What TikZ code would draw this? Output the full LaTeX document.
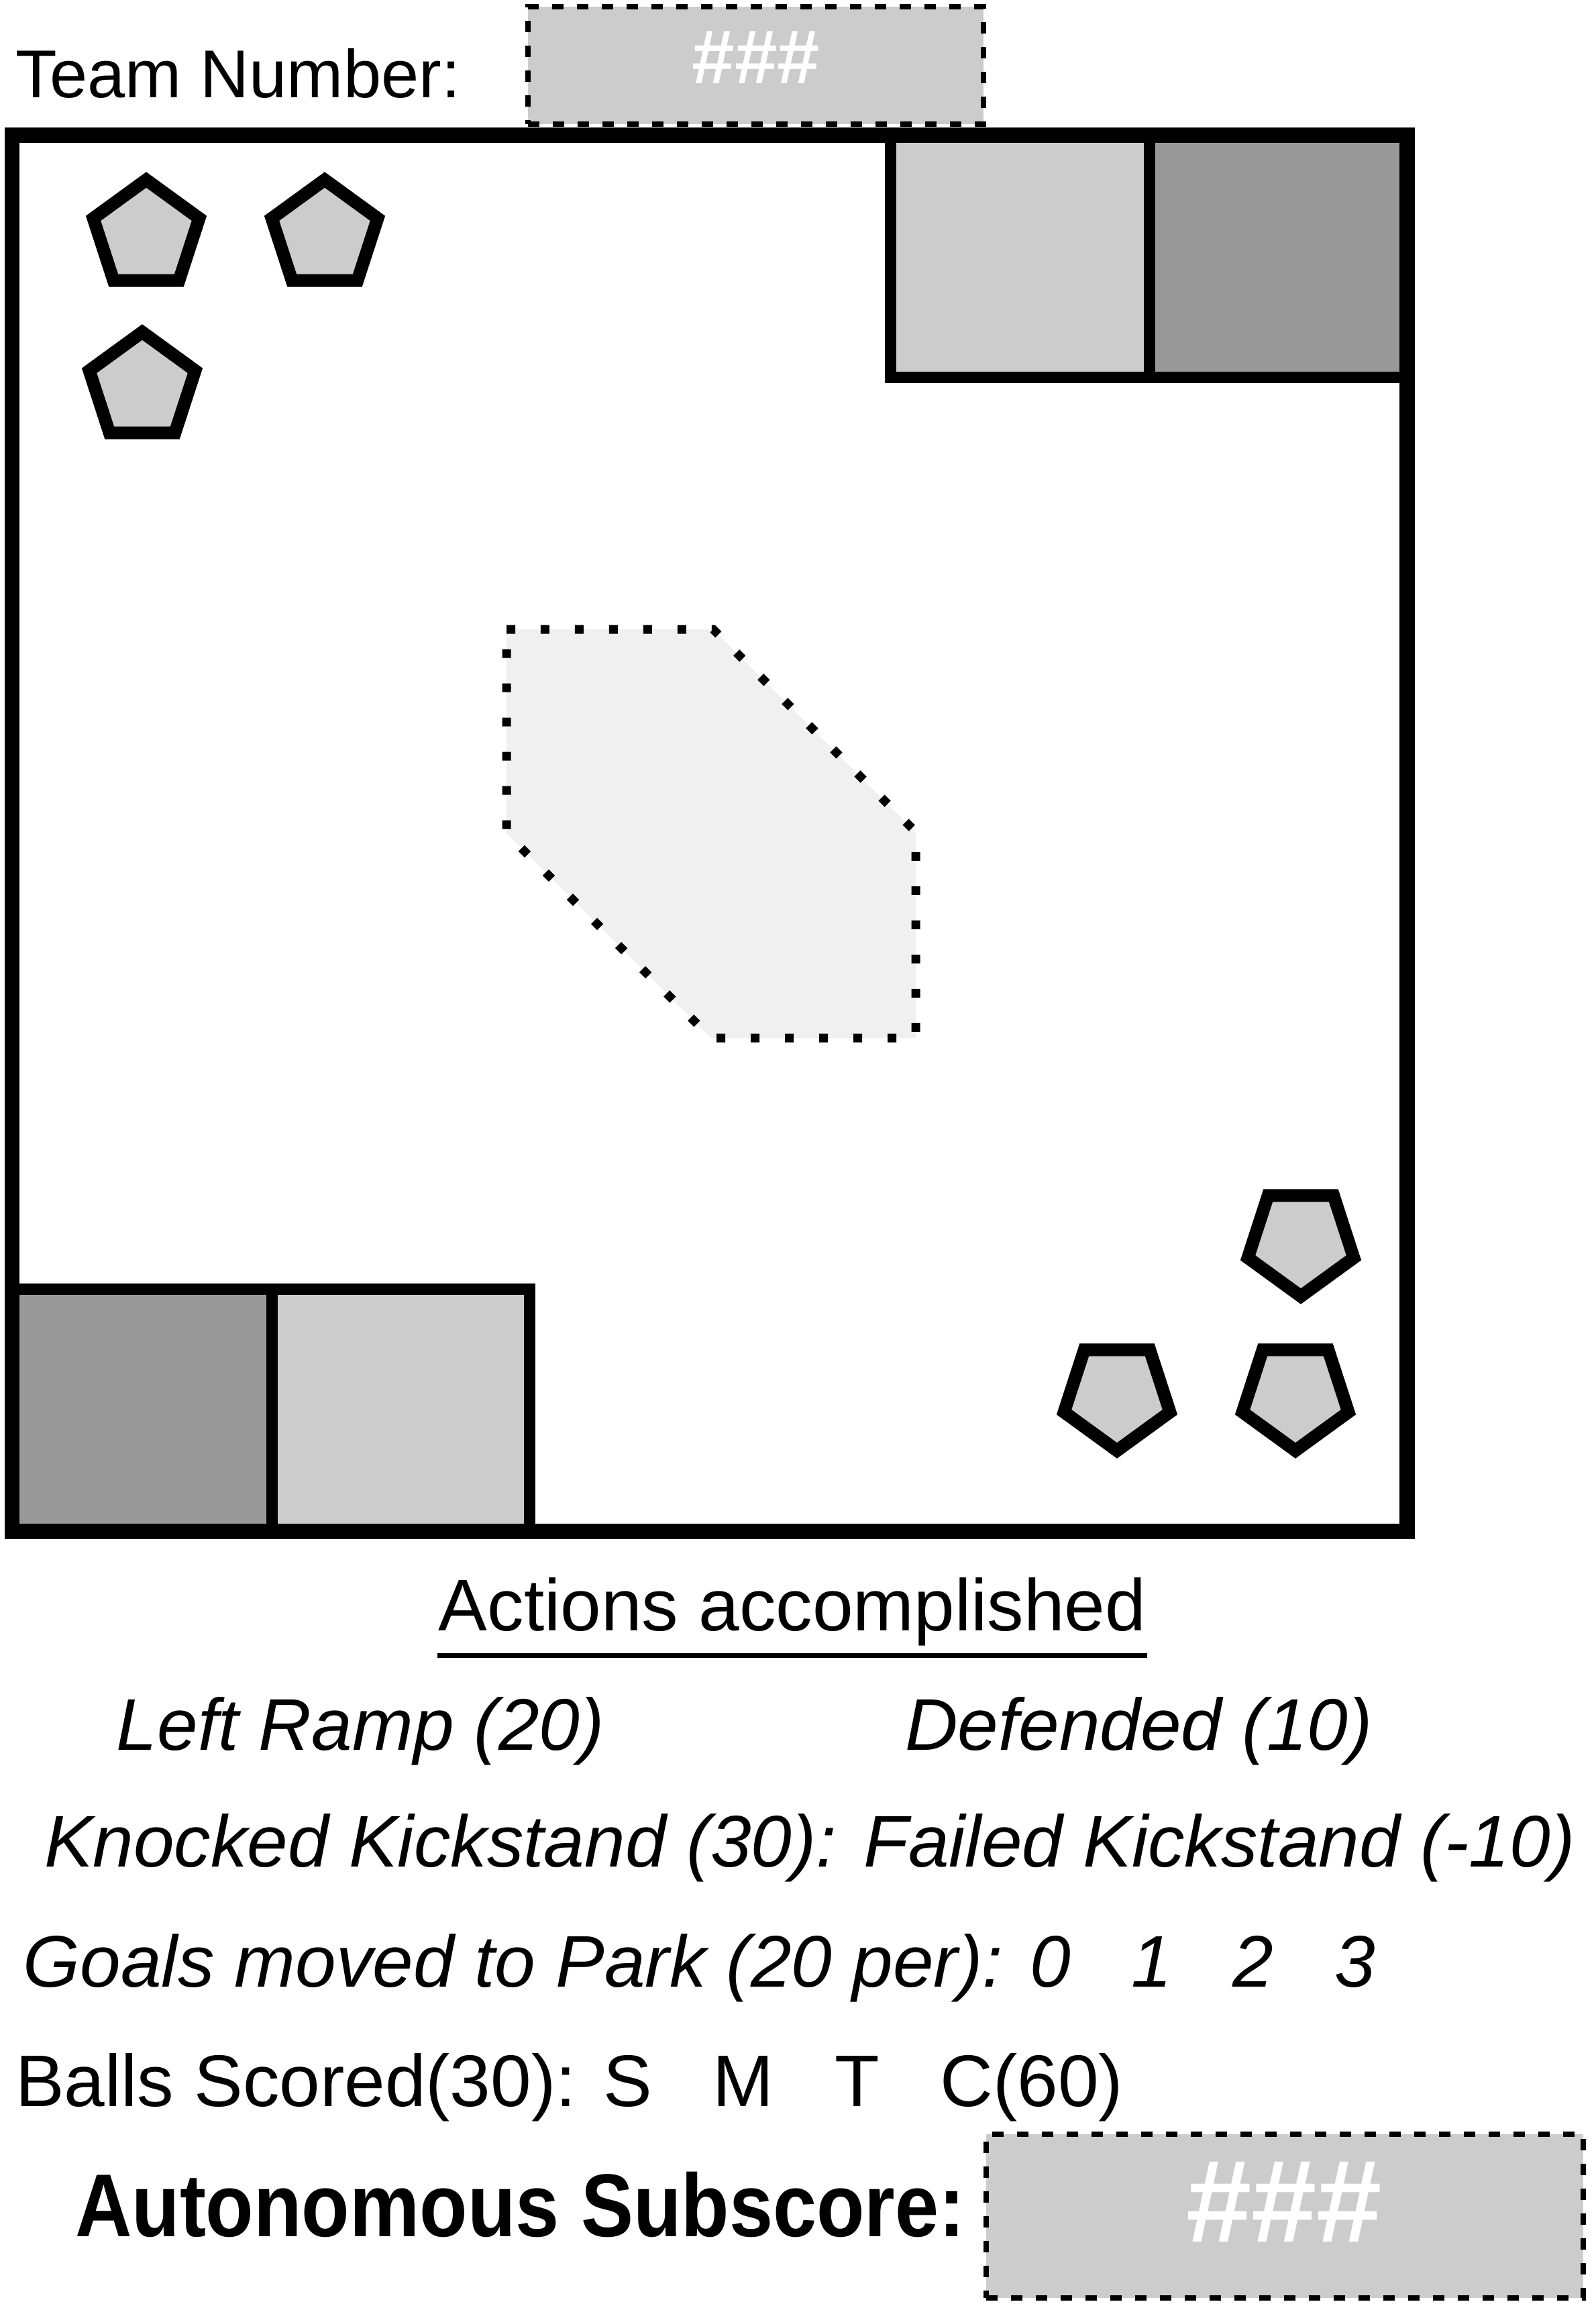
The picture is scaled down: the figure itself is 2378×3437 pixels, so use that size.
\documentclass[tikz,border=0pt]{standalone}
\usepackage{fontspec}
\usepackage{graphicx}
\setmainfont{Liberation Sans}
\usetikzlibrary{shapes.geometric}
\definecolor{fieldlight}{HTML}{CCCCCC}
\definecolor{fielddark}{HTML}{999999}
\definecolor{parkfill}{HTML}{F0F0F0}
\begin{document}
\begin{tikzpicture}[x=0.1pt,y=-0.1pt,
  frame/.style={draw=black, line width=2.3pt},
  zone/.style={draw=black, line width=1.7pt},
  goal/.style={regular polygon, regular polygon sides=5, draw=black, fill=fieldlight, line width=1.9pt, minimum size=16.6pt, inner sep=0pt},
  goaldown/.style={goal, shape border rotate=180},
  entry/.style={draw=black, fill=fieldlight, line width=0.8pt, dash pattern=on 1.7pt off 2pt, inner sep=0pt},
  hash/.style={text=white, inner sep=0pt},
  parkzone/.style={draw=black, fill=parkfill, line width=1.3pt, dash pattern=on 1.3pt off 3.8pt},
  lbl/.style={inner sep=0pt, anchor=base west, font=\fontsize{10.9}{13}\selectfont},
  ilbl/.style={lbl, font=\fontsize{10.9}{13}\selectfont\itshape},
]
\useasboundingbox (0,0) rectangle (2378,3437);
\fill[white] (0,0) rectangle (2378,3437);

% header
\node[lbl, font=\fontsize{10.1}{12}\selectfont] (team) at (22,145) {Team Number:};
\node[entry, minimum width=67.9pt, minimum height=17.5pt] (teambox) at (1126.5,97.5) {};
\node[hash, font=\fontsize{11.4}{13}\selectfont\bfseries] (teamhash) at (1127,86) {\#\#\#};

% field zones
\draw[zone, fill=fieldlight] (1327,201) rectangle (1713,562);
\draw[zone, fill=fielddark] (1713,201) rectangle (2097,562);
\draw[zone, fill=fielddark] (18,1921) rectangle (405,2282);
\draw[zone, fill=fieldlight] (405,1921) rectangle (789,2282);

% field frame
\draw[frame] (18,201) rectangle (2097,2282);

% parking zone
\draw[parkzone] (755,938) -- (1063,938) -- (1365,1240) -- (1365,1547) -- (1060,1547) -- (755,1242) -- cycle;

% goals
\node[goal] (g1) at (218,351) {};
\node[goal] (g2) at (484,351) {};
\node[goal] (g3) at (212,578) {};
\node[goaldown] (g4) at (1939,1849) {};
\node[goaldown] (g5) at (1665,2079) {};
\node[goaldown] (g6) at (1931,2079) {};

% actions
\node[lbl, inner ysep=1.3pt] (actions) at (652,2430) {Actions accomplished};
\draw[line width=0.7pt] (actions.south west) -- (actions.south east);
\node[ilbl] (leftramp) at (172,2608) {Left Ramp (20)};
\node[ilbl] (defended) at (1347,2608) {Defended (10)};
\node[ilbl] (kick) at (64,2782) {Knocked Kickstand (30): Failed Kickstand (-10)};
\node[ilbl] (goals) at (33,2961) {Goals moved to Park (20 per): 0\ \ \ 1\ \ \ 2\ \ \ 3};
\node[lbl] (balls) at (21,3139) {Balls Scored(30): S\ \ \ M\ \ \ T\ \ \ C(60)};

% subscore
\node[lbl, font=\fontsize{13.3}{16}\selectfont\bfseries] (auto) at (110,3333) {\scalebox{0.88}[1]{Autonomous Subscore:}};
\node[entry, minimum width=89pt, minimum height=24.4pt] (subbox) at (1915,3303) {};
\node[hash, font=\fontsize{17.5}{20}\selectfont\bfseries] (subhash) at (1914,3282) {\#\#\#};
\end{tikzpicture}
\end{document}
